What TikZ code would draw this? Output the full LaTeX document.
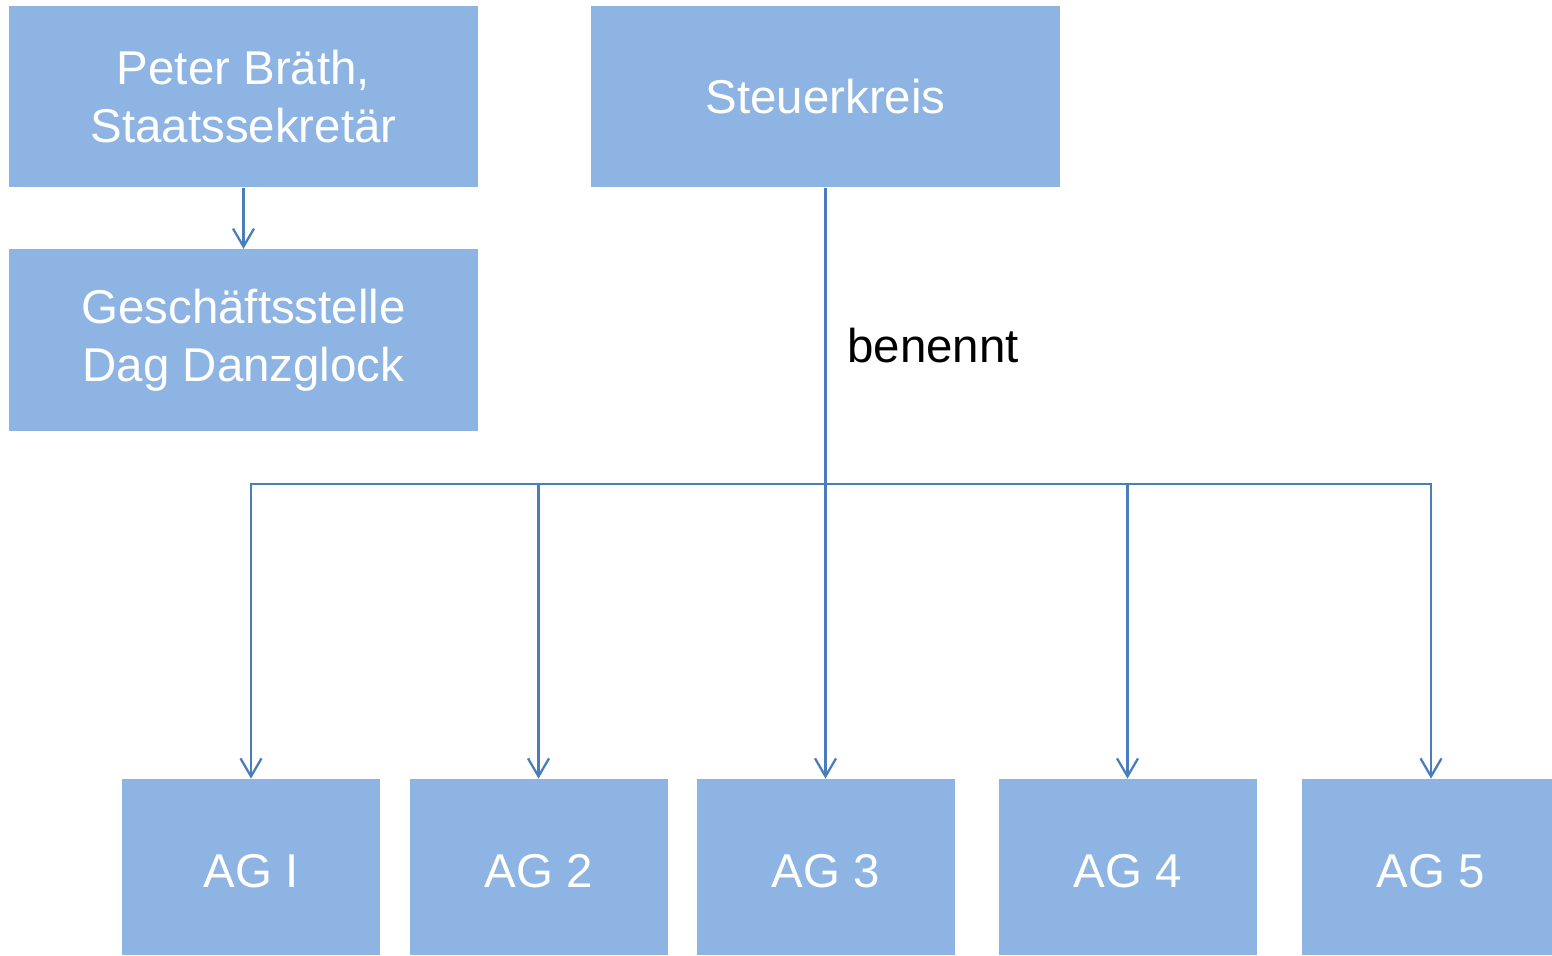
\documentclass[tikz,border=0pt]{standalone}
\usepackage{fontspec}
\setmainfont{Liberation Sans}
\usetikzlibrary{positioning,arrows.meta}
\definecolor{boxblue}{HTML}{8EB4E3}
\definecolor{lineblue}{HTML}{4A7EBB}

\begin{document}
\begin{tikzpicture}
[node distance = 0 pt,
 box/.style={fill=boxblue, text=white, align=center, inner sep=0pt, font=\fontsize{27}{33}\selectfont},
 topbox/.style={box, minimum width=9.38cm, minimum height=3.62cm},
 agbox/.style={box, minimum width=5.16cm, minimum height=3.52cm, text height=23.8pt, text depth=0pt},
 conn/.style={lineblue, line width=1.3pt},
 pfeil/.style={conn, -{Straight Barb[length=0.36cm, width=0.42cm, line width=1.3pt]}}]

\useasboundingbox (0,0) rectangle (31.04,19.10);

\node[topbox] (peter) at(4.87,17.16) {Peter Bräth,\\Staatssekretär};
\node[topbox, minimum height=3.64cm, below=1.22cm of peter] (gst) {Geschäftsstelle\\Dag Danzglock};
\node[topbox] (steuer) at(16.51,17.16) {Steuerkreis};

\node[agbox] (ag1) at(5.02,1.76)  {AG I};
\node[agbox] (ag2) at(10.77,1.76) {AG 2};
\node[agbox] (ag3) at(16.51,1.76) {AG 3};
\node[agbox] (ag4) at(22.55,1.76) {AG 4};
\node[agbox] (ag5) at(28.62,1.76) {AG 5};

\coordinate (fork) at(16.51,9.42);

\draw[pfeil] (peter) -- (gst);
\draw[conn, line width=1.9pt] (steuer) -- (fork);
\node[anchor=base west, inner sep=0pt, font=\fontsize{27}{32.4}\selectfont] (benennt) at(16.94,11.84) {benennt};

%\draw[conn] (fork) -- (ag3);
\foreach \i in {1,...,5}
  \draw[pfeil] (fork) -| (ag\i.north);
\end{tikzpicture}
\end{document}
